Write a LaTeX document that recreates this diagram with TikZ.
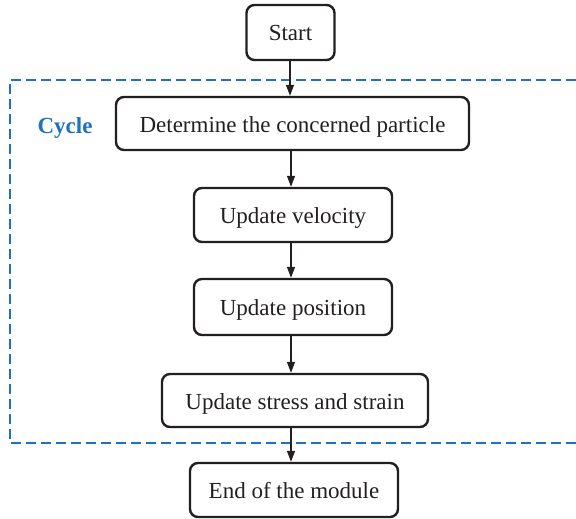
\documentclass[tikz,border=0pt]{standalone}
\usepackage{fontspec}
\setmainfont{Liberation Serif}
\usetikzlibrary{arrows.meta}
\definecolor{cycleblue}{HTML}{1F72C0}
\definecolor{boxline}{HTML}{231F20}
\tikzset{
  stepbox/.style={draw=boxline, line width=2.4pt, rounded corners=8pt,
    inner sep=0pt, font=\fontsize{23}{27}\selectfont, text=boxline,
    text height=19pt, text depth=2pt},
  flow/.style={draw=boxline, line width=1.2pt,
    -{Triangle[length=11pt,width=8pt]}},
  cyclebox/.style={draw=cycleblue, line width=2.4pt, dash pattern=on 10pt off 5pt},
}
\begin{document}
\begin{tikzpicture}[x=1pt,y=-1pt]
  \useasboundingbox (0,0) rectangle (576,519);
  % loop region, open on the right
  \draw[cyclebox] (576,80) -- (10,80) -- (10,443) -- (576,443);
  \node[font=\fontsize{23}{27}\selectfont\bfseries, text=cycleblue] (cyc) at (65,128) {Cycle};
  % process steps
  \node[stepbox, minimum width=88pt, minimum height=55pt] (start) at (290.5,32.5) {Start};
  \node[stepbox, minimum width=353pt, minimum height=53pt] (det) at (292.5,123.5) {Determine the concerned particle};
  \node[stepbox, minimum width=198pt, minimum height=54pt] (vel) at (293,215) {Update velocity};
  \node[stepbox, minimum width=198pt, minimum height=56pt] (pos) at (293,307) {Update position};
  \node[stepbox, minimum width=266pt, minimum height=53pt] (str) at (295,400.5) {Update stress and strain};
  \node[stepbox, minimum width=208pt, minimum height=54pt] (end) at (294,490) {End of the module};
  % connectors
  \draw[flow] (start.south -| 290,0) -- (det.north -| 290,0);
  \draw[flow] (det.south -| 291,0) -- (vel.north -| 291,0);
  \draw[flow] (vel.south -| 291,0) -- (pos.north -| 291,0);
  \draw[flow] (pos.south -| 291,0) -- (str.north -| 291,0);
  \draw[flow] (str.south -| 291,0) -- (end.north -| 291,0);
\end{tikzpicture}
\end{document}
